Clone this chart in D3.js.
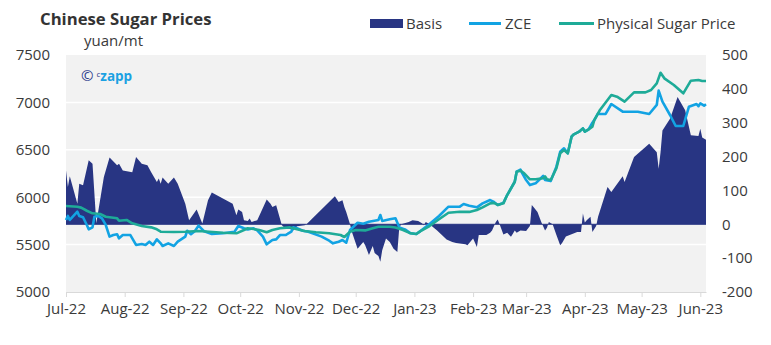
<!DOCTYPE html>
<html>
<head>
<meta charset="utf-8">
<script src="https://cdn.jsdelivr.net/npm/d3@7"></script>
<style>
  html, body { margin: 0; padding: 0; background: #ffffff; }
  svg { display: block; font-family: "Open Sans", sans-serif; }
</style>
</head>
<body>
<svg id="chart" width="771" height="345"></svg>
<script>
// Basis (right axis, yuan/mt)
const basisDates = ["2022-07-01","2022-07-02","2022-07-03","2022-07-07","2022-07-08","2022-07-10","2022-07-13","2022-07-15","2022-07-17","2022-07-21","2022-07-24","2022-07-28","2022-07-29","2022-07-31","2022-08-05","2022-08-07","2022-08-10","2022-08-13","2022-08-15","2022-08-18","2022-08-19","2022-08-20","2022-08-21","2022-08-24","2022-08-27","2022-08-29","2022-09-02","2022-09-04","2022-09-08","2022-09-11","2022-09-14","2022-09-16","2022-09-27","2022-09-29","2022-09-30","2022-10-02","2022-10-03","2022-10-05","2022-10-06","2022-10-07","2022-10-10","2022-10-12","2022-10-15","2022-10-17","2022-10-18","2022-10-20","2022-10-21","2022-10-23","2022-10-25","2022-10-27","2022-10-29","2022-10-31","2022-11-04","2022-11-05","2022-11-20","2022-11-22","2022-11-24","2022-11-25","2022-11-26","2022-11-28","2022-11-29","2022-12-02","2022-12-05","2022-12-06","2022-12-08","2022-12-10","2022-12-11","2022-12-13","2022-12-14","2022-12-15","2022-12-17","2022-12-19","2022-12-21","2022-12-23","2022-12-24","2022-12-25","2022-12-29","2022-12-31","2023-01-03","2023-01-05","2023-01-06","2023-01-07","2023-01-09","2023-01-13","2023-01-18","2023-01-21","2023-01-23","2023-01-28","2023-01-29","2023-02-01","2023-02-03","2023-02-04","2023-02-08","2023-02-10","2023-02-11","2023-02-13","2023-02-14","2023-02-15","2023-02-17","2023-02-19","2023-02-21","2023-02-22","2023-02-23","2023-02-24","2023-02-26","2023-03-01","2023-03-03","2023-03-04","2023-03-05","2023-03-07","2023-03-09","2023-03-11","2023-03-12","2023-03-13","2023-03-15","2023-03-17","2023-03-19","2023-03-20","2023-03-22","2023-03-28","2023-03-30","2023-03-31","2023-04-01","2023-04-02","2023-04-04","2023-04-05","2023-04-07","2023-04-08","2023-04-13","2023-04-15","2023-04-21","2023-04-22","2023-04-27","2023-05-05","2023-05-09","2023-05-10","2023-05-11","2023-05-12","2023-05-16","2023-05-20","2023-05-24","2023-05-27","2023-05-31","2023-06-01","2023-06-02","2023-06-04"];
const basisValues = [159,110,142,61,120,115,189,179,3,140,197,174,179,159,154,199,179,174,154,125,135,120,138,120,138,120,61,12,44,2,71,94,61,27,44,36,12,10,17,7,12,36,73,61,51,56,36,-3,-13,-13,-18,-6,-3,0,83,66,71,51,36,0,-23,-72,-52,-62,-91,-64,-85,-94,-111,-77,-42,-52,-72,-82,-10,0,7,12,10,3,-3,7,0,-18,-45,-52,-55,-59,-62,-42,-67,-32,-32,-25,-18,7,14,0,-30,-25,-37,-28,-18,-25,-18,-20,-5,57,50,36,7,-18,-10,7,0,-32,-62,-55,-36,-23,-23,32,5,12,22,-23,-5,22,110,95,142,125,199,238,213,164,213,277,312,376,337,263,261,282,256,250];

// ZCE futures (left axis, yuan/mt)
const zceDates = ["2022-07-01","2022-07-02","2022-07-03","2022-07-07","2022-07-08","2022-07-10","2022-07-12","2022-07-13","2022-07-15","2022-07-16","2022-07-18","2022-07-20","2022-07-22","2022-07-24","2022-07-26","2022-07-28","2022-07-29","2022-07-31","2022-08-04","2022-08-07","2022-08-10","2022-08-12","2022-08-14","2022-08-16","2022-08-18","2022-08-20","2022-08-21","2022-08-24","2022-08-27","2022-08-29","2022-09-02","2022-09-03","2022-09-05","2022-09-07","2022-09-09","2022-09-12","2022-09-16","2022-09-22","2022-09-28","2022-09-30","2022-10-03","2022-10-05","2022-10-08","2022-10-10","2022-10-13","2022-10-15","2022-10-18","2022-10-20","2022-10-22","2022-10-25","2022-10-26","2022-10-28","2022-10-29","2022-10-31","2022-11-03","2022-11-06","2022-11-13","2022-11-17","2022-11-19","2022-11-22","2022-11-24","2022-11-26","2022-11-28","2022-12-02","2022-12-05","2022-12-08","2022-12-13","2022-12-14","2022-12-15","2022-12-19","2022-12-22","2022-12-24","2022-12-27","2022-12-30","2023-01-02","2023-01-04","2023-01-09","2023-01-14","2023-01-19","2023-01-25","2023-01-27","2023-01-30","2023-02-03","2023-02-06","2023-02-10","2023-02-12","2023-02-14","2023-02-17","2023-02-19","2023-02-23","2023-02-24","2023-02-26","2023-02-27","2023-03-01","2023-03-03","2023-03-06","2023-03-10","2023-03-11","2023-03-14","2023-03-17","2023-03-19","2023-03-21","2023-03-23","2023-03-25","2023-03-26","2023-03-29","2023-03-31","2023-04-01","2023-04-03","2023-04-05","2023-04-06","2023-04-08","2023-04-09","2023-04-12","2023-04-15","2023-04-21","2023-04-29","2023-05-05","2023-05-09","2023-05-10","2023-05-12","2023-05-16","2023-05-19","2023-05-23","2023-05-26","2023-05-30","2023-05-31","2023-06-01","2023-06-03","2023-06-04"];
const zceValues = [5760,5802,5760,5847,5802,5788,5707,5661,5682,5794,5802,5777,5707,5584,5601,5609,5566,5601,5601,5496,5506,5496,5531,5496,5556,5513,5485,5513,5485,5531,5584,5646,5610,5640,5700,5640,5612,5620,5636,5696,5672,5660,5672,5650,5584,5503,5548,5555,5601,5601,5612,5636,5682,5672,5646,5636,5584,5541,5513,5530,5548,5520,5654,5731,5720,5742,5760,5812,5750,5767,5777,5682,5660,5619,5612,5640,5717,5802,5900,5900,5928,5910,5893,5935,5970,5950,5918,5940,6023,6163,6269,6290,6252,6181,6128,6146,6224,6181,6170,6322,6480,6516,6463,6638,6660,6691,6726,6691,6716,6786,6814,6885,6878,6878,6983,6902,6902,6878,6973,7124,7008,6867,6751,6751,6955,6983,6960,6990,6965,6980];

// Physical sugar price (left axis, yuan/mt)
const physDates = ["2022-07-01","2022-07-07","2022-07-09","2022-07-12","2022-07-15","2022-07-19","2022-07-22","2022-07-26","2022-07-28","2022-07-29","2022-08-02","2022-08-05","2022-08-10","2022-08-15","2022-08-18","2022-08-20","2022-08-27","2022-09-02","2022-09-09","2022-09-22","2022-09-29","2022-10-03","2022-10-05","2022-10-08","2022-10-11","2022-10-15","2022-10-18","2022-10-22","2022-10-27","2022-10-31","2022-11-04","2022-11-10","2022-11-17","2022-11-23","2022-11-25","2022-11-28","2022-12-01","2022-12-06","2022-12-10","2022-12-13","2022-12-19","2022-12-22","2022-12-26","2022-12-30","2023-01-02","2023-01-04","2023-01-09","2023-01-14","2023-01-19","2023-01-25","2023-01-30","2023-02-03","2023-02-06","2023-02-10","2023-02-12","2023-02-14","2023-02-17","2023-02-19","2023-02-23","2023-02-24","2023-02-26","2023-02-28","2023-03-03","2023-03-06","2023-03-10","2023-03-11","2023-03-12","2023-03-14","2023-03-17","2023-03-19","2023-03-21","2023-03-23","2023-03-25","2023-03-26","2023-03-29","2023-03-31","2023-04-01","2023-04-03","2023-04-05","2023-04-06","2023-04-08","2023-04-09","2023-04-11","2023-04-15","2023-04-18","2023-04-22","2023-04-27","2023-05-03","2023-05-06","2023-05-09","2023-05-11","2023-05-13","2023-05-18","2023-05-23","2023-05-27","2023-05-31","2023-06-02","2023-06-04"];
const physValues = [5907,5900,5890,5857,5830,5823,5794,5784,5777,5752,5760,5725,5696,5682,5661,5636,5633,5636,5643,5625,5619,5654,5672,5665,5654,5630,5654,5672,5682,5661,5643,5630,5619,5601,5580,5636,5654,5650,5672,5689,5689,5680,5654,5619,5612,5640,5696,5767,5836,5847,5845,5865,5893,5935,5940,5918,5935,6023,6163,6269,6280,6252,6189,6189,6199,6220,6189,6181,6305,6463,6498,6463,6638,6660,6691,6726,6691,6716,6744,6814,6885,6920,6973,7078,7060,7008,7106,7106,7131,7201,7313,7254,7184,7096,7229,7236,7226,7226];

const leftTicks = [5000, 5500, 6000, 6500, 7000, 7500];
const rightTicks = [-200, -100, 0, 100, 200, 300, 400, 500];
const dateRange = ["2022-07-01", "2023-06-04"];

const C = {
  basis: "#283583",
  zce: "#12a3e3",
  phys: "#1eab98",
  text: "#3a3a3a",
  plotBg: "#f2f2f2",
  grid: "#ffffff",
  axis: "#d9d9d9"
};

const parse = d3.timeParse("%Y-%m-%d");
const svg = d3.select("#chart");

const plot = { left: 66, right: 706, top: 55, bottom: 292 };

const x = d3.scaleTime().domain(dateRange.map(parse)).range([plot.left, plot.right]);
const yL = d3.scaleLinear().domain([5000, 7500]).range([plot.bottom, plot.top]);
const yR = d3.scaleLinear().domain([-200, 500]).range([plot.bottom, plot.top]);

const basis = basisDates.map((d, i) => ({ date: parse(d), v: basisValues[i] }));
const zce = zceDates.map((d, i) => ({ date: parse(d), v: zceValues[i] }));
const phys = physDates.map((d, i) => ({ date: parse(d), v: physValues[i] }));

// plain integers with an ASCII hyphen for negatives
const plain = d => String(d);

// plot background
svg.append("rect")
  .attr("x", plot.left).attr("y", plot.top)
  .attr("width", plot.right - plot.left).attr("height", plot.bottom - plot.top)
  .attr("fill", C.plotBg);

// horizontal gridlines
svg.append("g").selectAll("line")
  .data(leftTicks.filter(t => t > 5000 && t < 7500))
  .join("line")
  .attr("x1", plot.left).attr("x2", plot.right)
  .attr("y1", d => yL(d)).attr("y2", d => yL(d))
  .attr("stroke", C.grid).attr("stroke-width", 1.5);

// basis area
svg.append("path")
  .datum(basis)
  .attr("fill", C.basis)
  .attr("d", d3.area()
    .x(d => x(d.date))
    .y0(yR(0))
    .y1(d => yR(d.v)));

// zero line of the basis
svg.append("line")
  .attr("x1", plot.left).attr("x2", plot.right)
  .attr("y1", yR(0)).attr("y2", yR(0))
  .attr("stroke", C.basis).attr("stroke-width", 1);

const line = d3.line().x(d => x(d.date)).y(d => yL(d.v));

svg.append("path").datum(zce)
  .attr("fill", "none").attr("stroke", C.zce)
  .attr("stroke-width", 2.6).attr("stroke-linejoin", "round")
  .attr("d", line);

svg.append("path").datum(phys)
  .attr("fill", "none").attr("stroke", C.phys)
  .attr("stroke-width", 2.6).attr("stroke-linejoin", "round")
  .attr("d", line);

// left axis
const axL = svg.append("g")
  .attr("transform", `translate(${plot.left},0)`)
  .call(d3.axisLeft(yL).tickValues(leftTicks).tickFormat(plain).tickSize(0).tickPadding(16));
axL.select(".domain").remove();
axL.selectAll("text").attr("fill", C.text).style("font-size", "15px");

// right axis
const axR = svg.append("g")
  .attr("transform", `translate(${plot.right},0)`)
  .call(d3.axisRight(yR).tickValues(rightTicks).tickFormat(plain).tickSize(0).tickPadding(16));
axR.select(".domain").remove();
axR.selectAll("text").attr("fill", C.text).style("font-size", "15px");

// bottom axis with month ticks
const fmt = d3.timeFormat("%b-%y");
const axB = svg.append("g")
  .attr("transform", `translate(0,${plot.bottom})`)
  .call(d3.axisBottom(x).ticks(d3.timeMonth.every(1)).tickFormat(fmt).tickSizeInner(5).tickSizeOuter(0).tickPadding(6));
axB.select(".domain").attr("stroke", C.axis);
axB.selectAll(".tick line").attr("stroke", C.axis);
axB.selectAll("text").attr("fill", C.text).style("font-size", "15px");
svg.selectAll("g text").style("font-family", "'Open Sans', sans-serif");

// title and unit
svg.append("text")
  .attr("x", 40).attr("y", 25)
  .attr("fill", "#333333")
  .style("font-size", "16.7px").style("font-weight", 700)
  .text("Chinese Sugar Prices");

svg.append("text")
  .attr("x", 84).attr("y", 46)
  .attr("fill", C.text)
  .style("font-size", "15px")
  .text("yuan/mt");

// watermark
const mark = svg.append("text").attr("x", 81).attr("y", 81).style("font-size", "15px");
mark.append("tspan").attr("fill", "#2d3a8c").text("©");
mark.append("tspan").attr("fill", "#2d3a8c").attr("dx", 3).attr("dy", -4).style("font-size", "8px").text("c");
mark.append("tspan").attr("fill", "#1ba1e2").attr("dy", 4).style("font-weight", 700).style("font-size", "13.5px").text("zapp");

// legend
const legend = svg.append("g").style("font-size", "15px");
legend.append("rect").attr("x", 370).attr("y", 19).attr("width", 33).attr("height", 9).attr("fill", C.basis);
legend.append("text").attr("x", 406).attr("y", 28.5).attr("fill", C.text).text("Basis");
legend.append("line").attr("x1", 469).attr("x2", 501).attr("y1", 23.5).attr("y2", 23.5)
  .attr("stroke", C.zce).attr("stroke-width", 3);
legend.append("text").attr("x", 505).attr("y", 28.5).attr("fill", C.text).text("ZCE");
legend.append("line").attr("x1", 559).attr("x2", 594).attr("y1", 23.5).attr("y2", 23.5)
  .attr("stroke", C.phys).attr("stroke-width", 3);
legend.append("text").attr("x", 597).attr("y", 28.5).attr("fill", C.text).text("Physical Sugar Price");
</script>
</body>
</html>
